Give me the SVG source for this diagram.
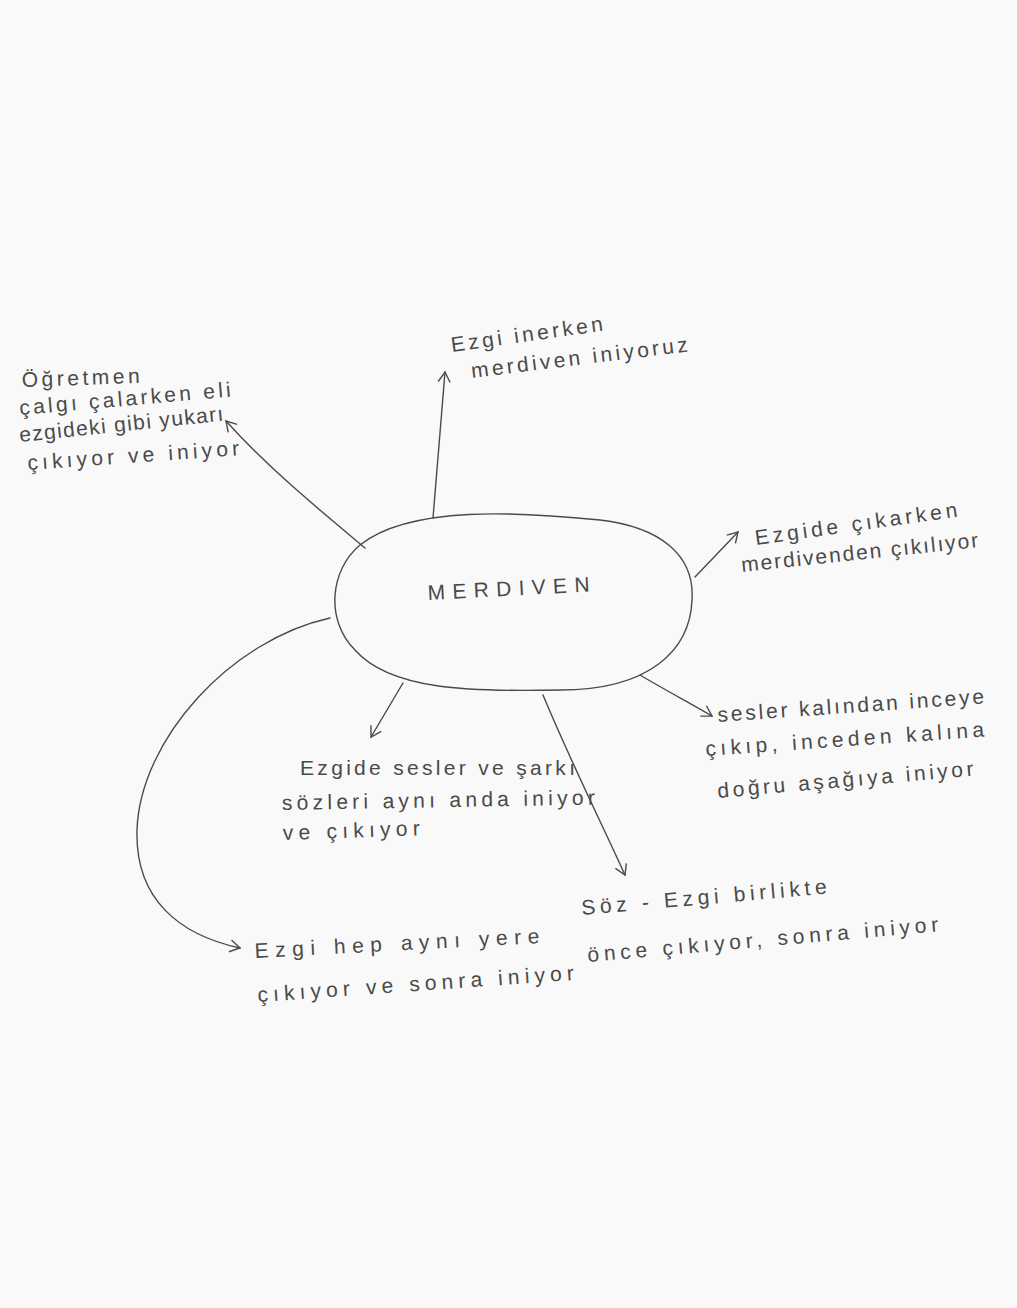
<svg xmlns="http://www.w3.org/2000/svg" width="1017" height="1308" viewBox="0 0 1017 1308">
<style>
.t{font-family:"Liberation Sans","DejaVu Sans",sans-serif;font-size:21px;fill:#4a4a4a;}
.c{fill:none;stroke:#4a4a4a;stroke-width:1.4;stroke-linecap:round;}
</style>
<defs>
<marker id="ah" viewBox="0 0 14 14" refX="11" refY="7" markerWidth="14" markerHeight="14" markerUnits="userSpaceOnUse" orient="auto">
<path d="M1,1 L11,7 L1,13" fill="none" stroke="#4a4a4a" stroke-width="1.4"/>
</marker>
</defs>
<rect width="1017" height="1308" fill="#f9f9f9"/>
<g id="center">
<path class="c" d="M360,545 C410,505 520,512 600,520 C660,527 695,555 692,600 C690,650 650,690 560,690 C470,692 390,690 355,650 C325,620 330,570 360,545 Z"/>
<text class="t" x="428" y="600" textLength="162" lengthAdjust="spacing" transform="rotate(-3 428 600)">MERDIVEN</text>
</g>
<g id="connectors">
<path class="c" d="M433,518 L445,372" marker-end="url(#ah)"/>
<path class="c" d="M365,548 C320,510 270,470 226,421" marker-end="url(#ah)"/>
<path class="c" d="M695,577 L738,532" marker-end="url(#ah)"/>
<path class="c" d="M640,675 C665,690 690,703 712,716" marker-end="url(#ah)"/>
<path class="c" d="M403,683 L371,737" marker-end="url(#ah)"/>
<path class="c" d="M543,695 C570,760 600,820 625,875" marker-end="url(#ah)"/>
<path class="c" d="M330,618 C230,640 140,740 137,830 C135,900 180,935 240,948" marker-end="url(#ah)"/>
</g>
<g id="n1">
<text class="t" x="22" y="387" textLength="118" lengthAdjust="spacing" transform="rotate(-2 22 387)">Öğretmen</text>
<text class="t" x="20" y="415" textLength="212" lengthAdjust="spacing" transform="rotate(-5 20 415)">çalgı çalarken eli</text>
<text class="t" x="20" y="442" textLength="205" lengthAdjust="spacing" transform="rotate(-6 20 442)">ezgideki gibi yukarı</text>
<text class="t" x="28" y="470" textLength="212" lengthAdjust="spacing" transform="rotate(-4 28 470)">çıkıyor ve iniyor</text>
</g>
<g id="n2">
<text class="t" x="452" y="352" textLength="153" lengthAdjust="spacing" transform="rotate(-8 452 352)">Ezgi inerken</text>
<text class="t" x="472" y="378" textLength="218" lengthAdjust="spacing" transform="rotate(-7 472 378)">merdiven iniyoruz</text>
</g>
<g id="n3">
<text class="t" x="756" y="545" textLength="204" lengthAdjust="spacing" transform="rotate(-8 756 545)">Ezgide çıkarken</text>
<text class="t" x="742" y="572" textLength="238" lengthAdjust="spacing" transform="rotate(-6 742 572)">merdivenden çıkılıyor</text>
</g>
<g id="n4">
<text class="t" x="718" y="722" textLength="267" lengthAdjust="spacing" transform="rotate(-4 718 722)">sesler kalından inceye</text>
<text class="t" x="706" y="756" textLength="279" lengthAdjust="spacing" transform="rotate(-4 706 756)">çıkıp, inceden kalına</text>
<text class="t" x="718" y="798" textLength="257" lengthAdjust="spacing" transform="rotate(-5 718 798)">doğru aşağıya iniyor</text>
</g>
<g id="n5">
<text class="t" x="300" y="775" textLength="275" lengthAdjust="spacing">Ezgide sesler ve şarkı</text>
<text class="t" x="282" y="810" textLength="313" lengthAdjust="spacing" transform="rotate(-1 282 810)">sözleri aynı anda iniyor</text>
<text class="t" x="283" y="840" textLength="137" lengthAdjust="spacing" transform="rotate(-2 283 840)">ve çıkıyor</text>
</g>
<g id="n6">
<text class="t" x="582" y="915" textLength="246" lengthAdjust="spacing" transform="rotate(-5 582 915)">Söz - Ezgi birlikte</text>
<text class="t" x="588" y="962" textLength="352" lengthAdjust="spacing" transform="rotate(-5 588 962)">önce çıkıyor, sonra iniyor</text>
</g>
<g id="n7">
<text class="t" x="255" y="958" textLength="285" lengthAdjust="spacing" transform="rotate(-3 255 958)">Ezgi hep aynı yere</text>
<text class="t" x="258" y="1002" textLength="317" lengthAdjust="spacing" transform="rotate(-4 258 1002)">çıkıyor ve sonra iniyor</text>
</g>
</svg>
